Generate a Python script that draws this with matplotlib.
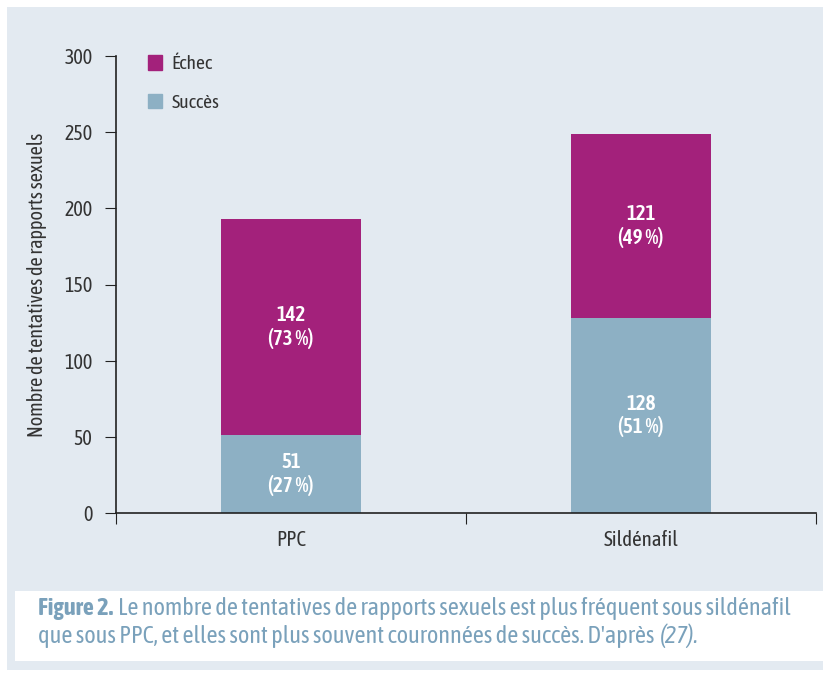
import matplotlib
matplotlib.use("Agg")
import matplotlib.pyplot as plt
from matplotlib import font_manager
from matplotlib.patches import Rectangle, Patch

categories = ["PPC", "Sildénafil"]
succes = [51, 128]
echec = [142, 121]
succes_pct = [27, 51]
echec_pct = [73, 49]
yticks = [0, 50, 100, 150, 200, 250, 300]

# look for a narrow family that also has a bold face
weights = {}
for f in font_manager.fontManager.ttflist:
    if "Narrow" in f.name or "Condensed" in f.name:
        w = f.weight if isinstance(f.weight, int) else font_manager.weight_dict.get(f.weight, 400)
        weights.setdefault(f.name, set()).add(w)
good = [n for n, ws in weights.items() if any(w >= 600 for w in ws) and any(w <= 500 for w in ws)]
family = good[0] if good else (list(weights)[0] if weights else "DejaVu Sans")
plt.rcParams["font.family"] = [family, "DejaVu Sans"]

col_echec = "#a3217b"
col_succes = "#8db0c4"
bg = "#e3eaf1"
txt = "#333333"
cap_col = "#7aa1bb"

W, H = 823, 673
fig = plt.figure(figsize=(W / 100, H / 100), dpi=100, facecolor="white")


def px(x0, y0, x1, y1):
    # pixel box (top-left origin) -> figure fraction
    return [x0 / W, 1 - y1 / H, (x1 - x0) / W, (y1 - y0) / H]


b = px(7, 7, 823, 670)
fig.patches.append(Rectangle((b[0], b[1]), b[2], b[3], transform=fig.transFigure,
                             facecolor=bg, edgecolor="none", zorder=-10))
c = px(15, 591, 823, 661)
fig.patches.append(Rectangle((c[0], c[1]), c[2], c[3], transform=fig.transFigure,
                             facecolor="white", edgecolor="none", zorder=-9))

ax = fig.add_axes(px(116, 56, 816, 513))
ax.set_facecolor("none")
x = list(range(len(categories)))
ax.bar(x, succes, width=0.4, color=col_succes, label="Succès")
ax.bar(x, echec, width=0.4, bottom=succes, color=col_echec, label="Échec")

for i in x:
    ax.text(i, succes[i] / 2, f"{succes[i]}\n({succes_pct[i]} %)", ha="center", va="center",
            color="white", fontsize=15, fontweight="semibold", linespacing=1.15)
    ax.text(i, succes[i] + echec[i] / 2, f"{echec[i]}\n({echec_pct[i]} %)", ha="center",
            va="center", color="white", fontsize=15, fontweight="semibold", linespacing=1.15)

ax.set_xlim(-0.5, 1.5)
ax.set_ylim(0, 300)
ax.set_yticks(yticks)
ax.set_xticks([-0.5, 0.5, 1.5])
ax.set_xticklabels([])
ax.set_xticks(x, minor=True)
ax.set_xticklabels(categories, minor=True)
ax.tick_params(axis="x", which="minor", length=0, pad=12, labelsize=15, labelcolor=txt)
ax.tick_params(axis="x", which="major", length=8, direction="out", color="#222222")
ax.tick_params(axis="y", length=8, direction="out", labelsize=14.5, labelcolor=txt, pad=9,
               color="#222222")
for s in ["top", "right"]:
    ax.spines[s].set_visible(False)
for s in ["left", "bottom"]:
    ax.spines[s].set_color("#222222")
    ax.spines[s].set_linewidth(1.2)
ax.set_ylabel("Nombre de tentatives de rapports sexuels", fontsize=14.5, color=txt, labelpad=12)

h = [Patch(color=col_echec), Patch(color=col_succes)]
ax.legend(h, ["Échec", "Succès"], loc="upper left", bbox_to_anchor=(0.02, 1.04), frameon=False,
          fontsize=14, handlelength=0.75, handleheight=0.75, handletextpad=0.5, labelspacing=1.05,
          labelcolor=txt)

# caption, pieces placed one after the other
r = fig.canvas.get_renderer()


def chain(parts, x0, y0):
    xx = x0
    for s, kw in parts:
        t = fig.text(xx / W, 1 - y0 / H, s, fontsize=17.5, color=cap_col, va="center", ha="left", **kw)
        bb = t.get_window_extent(renderer=r)
        xx = bb.x1 + 5


chain([("Figure 2.", {"fontweight": "bold"}),
       ("Le nombre de tentatives de rapports sexuels est plus fréquent sous sildénafil", {})],
      38, 609)
chain([("que sous PPC, et elles sont plus souvent couronnées de succès. D'après", {}),
       ("(27).", {"style": "italic"})], 38, 636)

fig.savefig("out.png", dpi=100, facecolor="white")
